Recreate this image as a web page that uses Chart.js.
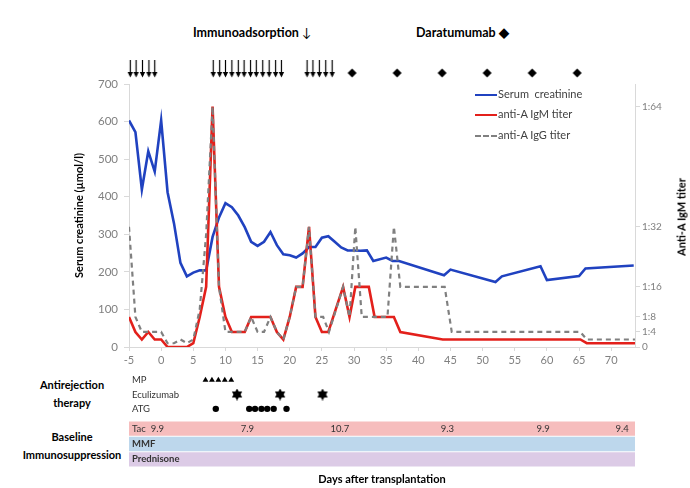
<!DOCTYPE html>
<html lang="en">
<head>
<meta charset="UTF-8">
<title>Creatinine and anti-A titers after transplantation</title>
<script src="https://cdn.jsdelivr.net/npm/chart.js"></script>
<style>
    body { margin: 0; background: #fff; font-family: Lato, "Open Sans", sans-serif; }
    #wrap { position: relative; width: 690px; height: 488px; overflow: hidden; }
    canvas, .lbl { position: absolute; }
    .bold { font-weight: bold; color: #000; }
    .side { width: 120px; text-align: center; font-size: 11px; line-height: 18px; }
    .leg { font-size: 11px; color: #404040; left: 475px; white-space: nowrap; }
    .leg span { display: inline-block; width: 22px; vertical-align: middle; margin-right: 1px; }
</style>
</head>
<body>
<div id="wrap">
    <div class="lbl bold" style="left:193px; top:25px; font-size:12.5px;">Immunoadsorption <span style="font-weight:normal">&#8595;</span></div>
    <div class="lbl bold" style="left:416px; top:25px; font-size:12.5px;">Daratumumab &#9670;</div>

    <canvas id="marks" width="690" height="28" style="left:0; top:55px;"></canvas>
    <canvas id="main" width="690" height="370" style="left:0; top:0;"></canvas>

    <div class="lbl leg" style="top:87px;"><span style="border-top:2.5px solid #2042c0"></span>Serum&nbsp; creatinine</div>
    <div class="lbl leg" style="top:107px;"><span style="border-top:2.5px solid #e3201b"></span>anti-A IgM titer</div>
    <div class="lbl leg" style="top:128px;"><span style="border-top:2px dashed #808080"></span>anti-A IgG titer</div>

    <div class="lbl bold" style="left:681px; top:217px; font-size:11px; white-space:nowrap; transform:translate(-50%,-50%) rotate(-90deg);">Anti-A IgM titer</div>

    <div class="lbl bold side" style="left:12px; top:376px;">Antirejection<br>therapy</div>
    <div class="lbl bold side" style="left:12px; top:428px;">Baseline<br>Immunosuppression</div>

    <canvas id="therapy" width="690" height="43" style="left:0; top:373px;"></canvas>
    <canvas id="bands" width="690" height="67" style="left:0; top:421px;"></canvas>
</div>

<script>
    // serum creatinine (umol/l)
    const creatDays = [-5, -4, -3, -2, -1, 0, 1, 2, 3, 4, 5, 6, 7, 8, 9, 10, 11, 12, 13, 14, 15, 16, 17, 18, 19, 20,
        21, 22, 23, 24, 25, 26, 27, 28, 29, 30, 31, 32, 33, 35, 36, 37, 44, 45, 52, 53, 59, 60, 65, 66, 73.5];
    const creatVals = [603, 572, 419, 521, 467, 603, 412, 329, 224, 188, 198, 204, 204, 293, 345, 383, 372, 350, 319, 280, 269, 280, 306, 271, 247, 244,
        238, 249, 266, 266, 291, 295, 280, 265, 257, 257, 256, 257, 229, 238, 229, 229, 191, 206, 173, 188, 215, 178, 189, 209, 217];

    // anti-A IgM titer (1:x)
    const igmDays = [-5, -4, -3, -2, -1, 0, 1, 2, 3, 4, 5, 6, 7, 8, 9, 10, 11, 12, 13, 14, 15, 16, 17, 18, 19, 20,
        21, 22, 23, 24, 25, 26, 28.3, 29.3, 30.2, 32.3, 33.2, 36.2, 37.2, 43.8, 65.2, 66.2, 73.7];
    const igmTiters = [8, 4, 2, 4, 2, 2, 0, 0, 0, 0, 1, 8, 16, 64, 16, 8, 4, 4, 4, 8, 8, 8, 8, 4, 2, 8,
        16, 16, 32, 8, 4, 4, 16, 8, 16, 16, 8, 8, 4, 2, 2, 1, 1];

    // anti-A IgG titer (1:x)
    const iggDays = [-5, -4, -3, -2, -1, 0, 1, 2, 3, 4, 5, 6, 7, 8, 9, 10, 11, 12, 13, 14, 15, 16, 17, 18, 19, 20,
        21, 22, 23, 24, 25.2, 26.1, 28.3, 29.3, 30.2, 31.2, 35.2, 36.2, 37.2, 44.1, 45.2, 65.2, 66.2, 73.7];
    const iggTiters = [32, 8, 4, 4, 4, 4, 1, 1, 2, 1, 2, 10, 30, 64, 16, 4, 4, 4, 4, 8, 4, 4, 8, 4, 2, 8,
        16, 16, 32, 8, 8, 4, 16, 8, 32, 8, 8, 32, 16, 16, 4, 4, 2, 2];

    const titerTicks = [0, 4, 8, 16, 32, 64];

    // treatments
    const iaDays = [-4.8, -3.9, -2.9, -1.9, -1.0, 8.1, 9.1, 10.0, 11.0, 12.0, 12.9, 13.9, 14.8, 15.8, 16.8, 17.8, 18.7,
        22.7, 23.6, 24.6, 25.6, 26.6];
    const daraDays = [29.7, 36.7, 43.7, 50.7, 57.7, 64.7];
    const therapyRows = ['MP', 'Eculizumab', 'ATG'];
    const mpDays = [6.9, 7.9, 8.9, 9.9, 10.9];
    const ecuDays = [11.8, 18.5, 25.1];
    const atgDays = [8.5, 13.7, 14.6, 15.6, 16.5, 17.5, 19.5];

    // baseline immunosuppression
    const bandRows = ['Tac', 'MMF', 'Prednisone'];
    const bandStart = -5;
    const bandEnd = 73.7;
    const tacDays = [-0.6, 13.4, 27.8, 44.5, 59.4, 71.7];
    const tacLevels = ['9.9', '7.9', '10.7', '9.3', '9.9', '9.4'];

    const xMin = -5, xMax = 73.7;
    const font = 'Lato, "Open Sans", sans-serif';
    Chart.defaults.font.family = font;

    function pts(days, vals) {
        return days.map((d, i) => ({x: d, y: vals[i]}));
    }

    function arrowMark() {
        const c = document.createElement('canvas');
        c.width = 7; c.height = 18;
        const g = c.getContext('2d');
        g.strokeStyle = '#000'; g.fillStyle = '#000'; g.lineWidth = 1.2;
        g.beginPath(); g.moveTo(3.5, 0); g.lineTo(3.5, 14); g.stroke();
        g.beginPath(); g.moveTo(0.8, 12); g.lineTo(6.2, 12); g.lineTo(3.5, 17.5); g.closePath(); g.fill();
        return c;
    }

    function diamondMark() {
        const c = document.createElement('canvas');
        c.width = 11; c.height = 18;
        const g = c.getContext('2d');
        g.fillStyle = '#000';
        g.beginPath(); g.moveTo(5.5, 8.5); g.lineTo(10, 13); g.lineTo(5.5, 17.5); g.lineTo(1, 13); g.closePath(); g.fill();
        return c;
    }

    function starMark() {
        const c = document.createElement('canvas');
        c.width = 12; c.height = 12;
        const g = c.getContext('2d');
        g.fillStyle = '#000';
        g.beginPath(); g.moveTo(6, 0); g.lineTo(11.2, 9); g.lineTo(0.8, 9); g.closePath(); g.fill();
        g.beginPath(); g.moveTo(6, 12); g.lineTo(11.2, 3); g.lineTo(0.8, 3); g.closePath(); g.fill();
        return c;
    }

    // row-label axis: no width, no label overflow padding
    function flatAxis(s) {
        s.width = 0;
        s.paddingTop = 0;
        s.paddingBottom = 0;
    }

    const noPlugins = {legend: {display: false}, tooltip: {enabled: false}};

    // top row: immunoadsorption / daratumumab
    new Chart(document.getElementById('marks'), {
        type: 'scatter',
        data: {
            datasets: [
                {data: iaDays.map(d => ({x: d, y: 1})), pointStyle: arrowMark(), clip: false},
                {data: daraDays.map(d => ({x: d, y: 1})), pointStyle: diamondMark(), clip: false}
            ]
        },
        options: {
            responsive: false, animation: false,
            layout: {autoPadding: false, padding: {left: 129, right: 55, top: 0, bottom: 0}},
            plugins: noPlugins,
            scales: {
                x: {type: 'linear', min: xMin, max: xMax, display: false},
                y: {min: 0, max: 2, display: false}
            }
        }
    });

    const axisGray = '#d9d9d9';
    const tickGray = '#808080';

    new Chart(document.getElementById('main'), {
        type: 'line',
        data: {
            datasets: [
                {label: 'anti-A IgG titer', data: pts(iggDays, iggTiters), yAxisID: 'y2',
                    borderColor: '#808080', borderDash: [5, 4], borderWidth: 2.2},
                {label: 'anti-A IgM titer', data: pts(igmDays, igmTiters), yAxisID: 'y2',
                    borderColor: '#e3201b', borderWidth: 2.6},
                {label: 'Serum creatinine', data: pts(creatDays, creatVals), yAxisID: 'y',
                    borderColor: '#2042c0', borderWidth: 2.6}
            ]
        },
        options: {
            responsive: false, animation: false,
            elements: {point: {radius: 0}, line: {tension: 0, fill: false}},
            layout: {autoPadding: false, padding: {left: 69, right: 0, top: 84, bottom: 0}},
            plugins: noPlugins,
            scales: {
                x: {
                    type: 'linear', min: xMin, max: xMax,
                    afterFit(s) { s.height = 23; },
                    ticks: {stepSize: 5, includeBounds: false, color: tickGray, font: {size: 11}, padding: 3, maxRotation: 0},
                    grid: {drawOnChartArea: false, tickLength: 4, color: axisGray},
                    border: {color: axisGray}
                },
                y: {
                    position: 'left', min: 0, max: 700,
                    afterFit(s) { s.width = 60; },
                    ticks: {stepSize: 100, color: tickGray, font: {size: 11.5}, padding: 6},
                    grid: {drawOnChartArea: false, tickLength: 5, color: axisGray},
                    border: {color: axisGray},
                    title: {display: true, text: 'Serum creatinine (\u00b5mol/l)', color: '#000',
                        font: {size: 11, weight: 'bold'}, padding: {top: 4, bottom: 4}}
                },
                y2: {
                    position: 'right', min: 0, max: 70,
                    afterFit(s) { s.width = 55; },
                    afterBuildTicks(s) { s.ticks = titerTicks.map(v => ({value: v})); },
                    ticks: {color: tickGray, font: {size: 10}, padding: 2,
                        callback: v => v === 0 ? '0' : '1:' + v},
                    grid: {drawOnChartArea: false, tickLength: 5, color: axisGray},
                    border: {color: axisGray}
                }
            }
        }
    });

    // antirejection therapy rows
    new Chart(document.getElementById('therapy'), {
        type: 'scatter',
        data: {
            datasets: [
                {data: mpDays.map(d => ({x: d, y: 'MP'})), pointStyle: 'triangle', radius: 3.4,
                    backgroundColor: '#000', borderColor: '#000', borderWidth: 0},
                {data: ecuDays.map(d => ({x: d, y: 'Eculizumab'})), pointStyle: starMark()},
                {data: atgDays.map(d => ({x: d, y: 'ATG'})), pointStyle: 'circle', radius: 3.2,
                    backgroundColor: '#000', borderColor: '#000', borderWidth: 0}
            ]
        },
        options: {
            responsive: false, animation: false,
            layout: {autoPadding: false, padding: {left: 129, right: 55, top: 0, bottom: 0}},
            plugins: noPlugins,
            scales: {
                x: {type: 'linear', min: xMin, max: xMax, display: false},
                y: {
                    type: 'category', labels: therapyRows, offset: true,
                    afterFit: flatAxis,
                    grid: {display: false}, border: {display: false},
                    ticks: {mirror: true, autoSkip: false, padding: 3, color: '#333', font: {size: 9.5}}
                }
            }
        }
    });

    // tacrolimus trough levels written in the Tac band
    const tacLevelsPlugin = {
        id: 'tacLevels',
        afterDatasetsDraw(chart) {
            const {ctx, scales: {x, y}} = chart;
            const yc = y.getPixelForValue(0);
            ctx.save();
            ctx.font = '9.5px ' + font;
            ctx.fillStyle = '#333';
            ctx.textAlign = 'center';
            ctx.textBaseline = 'middle';
            tacDays.forEach((d, i) => ctx.fillText(tacLevels[i], x.getPixelForValue(d), yc));
            ctx.restore();
        }
    };

    new Chart(document.getElementById('bands'), {
        type: 'bar',
        data: {
            labels: bandRows,
            datasets: [{
                data: bandRows.map(() => [bandStart, bandEnd]),
                backgroundColor: ['#f6bdbd', '#bdd7ec', '#dccbe6'],
                barPercentage: 0.93, categoryPercentage: 1
            }]
        },
        options: {
            indexAxis: 'y',
            responsive: false, animation: false,
            layout: {autoPadding: false, padding: {left: 129, right: 55, top: 0, bottom: 0}},
            plugins: noPlugins,
            scales: {
                x: {
                    type: 'linear', min: xMin, max: xMax,
                    afterFit(s) { s.height = 21; },
                    grid: {display: false}, border: {display: false},
                    ticks: {display: false},
                    title: {display: true, text: 'Days after transplantation', color: '#000',
                        font: {size: 11, weight: 'bold'}, padding: {top: 0, bottom: 2}}
                },
                y: {
                    afterFit: flatAxis,
                    grid: {display: false}, border: {display: false},
                    ticks: {z: 1, mirror: true, autoSkip: false, padding: 3, color: '#333',
                        font: ctx => ({size: 9.5, weight: ctx.index === 0 ? 'normal' : 'bold'})}
                }
            }
        },
        plugins: [tacLevelsPlugin]
    });
</script>
</body>
</html>
